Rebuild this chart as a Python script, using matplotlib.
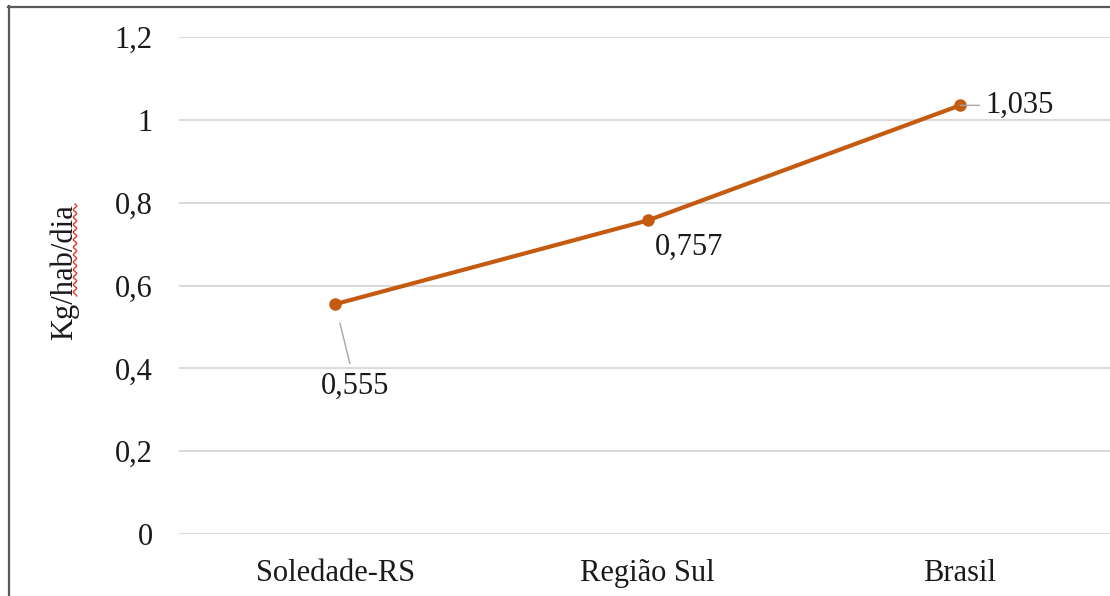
import numpy as np
import matplotlib
matplotlib.use("Agg")
import matplotlib.pyplot as plt
from matplotlib.lines import Line2D

# Per-capita waste generation (kg/hab/dia)
categories = ["Soledade-RS", "Região Sul", "Brasil"]
values = [0.555, 0.757, 1.035]
value_labels = ["0,555", "0,757", "1,035"]
y_ticks = [0, 0.2, 0.4, 0.6, 0.8, 1.0, 1.2]
y_tick_labels = ["0", "0,2", "0,4", "0,6", "0,8", "1", "1,2"]

W, H, DPI = 1110, 596, 100
FS = 22
plt.rcParams["font.family"] = ["Liberation Serif", "DejaVu Serif"]

fig = plt.figure(figsize=(W / DPI, H / DPI), dpi=DPI)
fig.patch.set_facecolor("white")

ax = fig.add_axes([179 / W, (H - 534) / H, (W - 179) / W, (534 - 37) / H])
ax.set_facecolor("white")

x = np.arange(len(categories))
line_color = "#C55A11"
ax.plot(x, values, color=line_color, lw=3.0, marker="o", markersize=8,
        solid_capstyle="round", zorder=3)

ax.set_xlim(-0.5, 2.48)
ax.set_ylim(0, 1.2)
ax.set_yticks(y_ticks)
ax.set_yticklabels(y_tick_labels)
ax.set_xticks(x)
ax.set_xticklabels(categories)
ax.tick_params(axis="y", length=0, pad=19, labelsize=FS, labelcolor="#1a1a1a")
ax.tick_params(axis="x", length=0, pad=18, labelsize=FS, labelcolor="#1a1a1a")
ax.grid(axis="y", color="#D9D9D9", lw=1.4)
ax.set_axisbelow(True)
for s in ax.spines.values():
    s.set_visible(False)

# Data labels
lbl_kw = dict(fontsize=FS, color="#1a1a1a", zorder=4)
# Soledade-RS label sits below its point with a leader line
sol_lbl = (0.065, 0.357)
ax.annotate(value_labels[0], xy=(x[0], values[0]), xytext=sol_lbl,
            ha="center", va="center",
            arrowprops=dict(arrowstyle="-", color="#A6A6A6", lw=1.0,
                            shrinkA=4, shrinkB=14), **lbl_kw)
ax.annotate(value_labels[1], xy=(x[1], values[1]), xytext=(5, -19),
            textcoords="offset points", ha="left", va="center", **lbl_kw)
ax.annotate(value_labels[2], xy=(x[2], values[2]), xytext=(18, 0),
            textcoords="offset points", ha="left", va="center",
            arrowprops=dict(arrowstyle="-", color="#A6A6A6", lw=1.0,
                            shrinkA=2, shrinkB=0), **lbl_kw)

# Axis title
fig.text(64 / W, 1 - 272 / H, "Kg/hab/dia", rotation=90, ha="center",
         va="center", fontsize=FS, color="#1a1a1a")

# Red wavy underline beneath "hab/dia"
yy = np.linspace(204, 296, 300)
xx = 75 + 1.6 * np.sin(2 * np.pi * (yy - 204) / 7.5)
fig.add_artist(Line2D(xx / W, 1 - yy / H, color="#E8332A", lw=1.0,
                      transform=fig.transFigure))

# Chart frame (top and left edges visible)
frame_c = "#595959"
fig.add_artist(Line2D([8.5 / W, 8.5 / W], [1 - 6 / H, 0], color=frame_c, lw=1.6,
                      transform=fig.transFigure))
fig.add_artist(Line2D([8 / W, 1], [1 - 6.5 / H, 1 - 6.5 / H], color=frame_c,
                      lw=1.6, transform=fig.transFigure))

fig.savefig("out.png", dpi=DPI, facecolor="white")
